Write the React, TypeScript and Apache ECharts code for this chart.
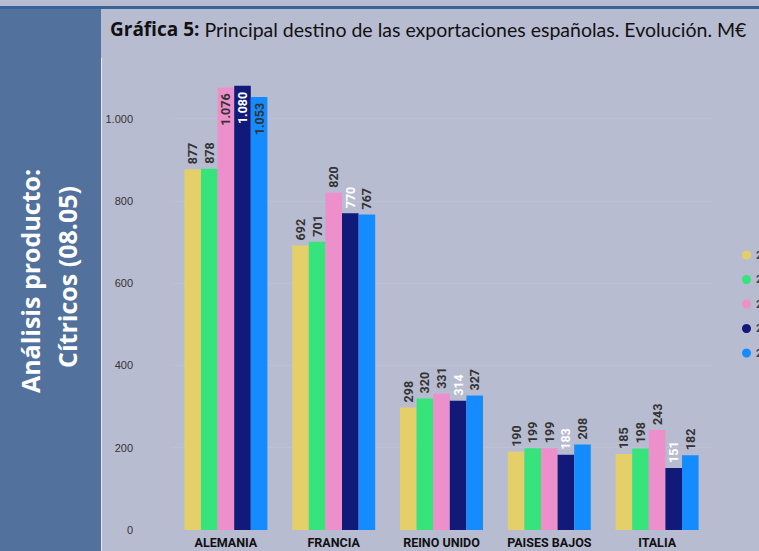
import React, { useEffect, useRef } from "react";
import * as echarts from "echarts";

const categories = ["ALEMANIA", "FRANCIA", "REINO UNIDO", "PAISES BAJOS", "ITALIA"];
const seriesNames = ["2019", "2020", "2021", "2022", "2023"];
const values2019 = [877, 692, 298, 190, 185];
const values2020 = [878, 701, 320, 199, 198];
const values2021 = [1076, 820, 331, 199, 243];
const values2022 = [1080, 770, 314, 183, 151];
const values2023 = [1053, 767, 327, 208, 182];
const yTicks = [0, 200, 400, 600, 800, 1000];

const colors = ["#e5cf68", "#37e47c", "#ec8fca", "#111a78", "#148cff"];
const labelColors = ["#333333", "#333333", "#333333", "#ffffff", "#333333"];

const fmt = (v: number) => {
  const s = String(Math.round(v));
  return s.replace(/\B(?=(\d{3})+(?!\d))/g, ".");
};

export default function App() {
  const ref = useRef<HTMLDivElement>(null);
  useEffect(() => {
    if (!ref.current) return;
    const chart = echarts.init(ref.current, null, { renderer: "svg" });
    const all = [values2019, values2020, values2021, values2022, values2023];
    const series = all.map((vals, i) => ({
      name: seriesNames[i],
      type: "bar",
      barGap: "0%",
      barCategoryGap: "23%",
      itemStyle: { color: colors[i] },
      label: {
        show: true,
        position: "top",
        rotate: 90,
        align: "left",
        verticalAlign: "middle",
        distance: 5,
        color: labelColors[i],
        fontSize: 12.5,
        fontWeight: "bold",
        fontFamily: "Roboto",
        formatter: (p: any) => fmt(p.value),
      },
      data: vals.map((v) =>
        v >= 1000
          ? { value: v, label: { position: "insideTop", align: "right", distance: 6 } }
          : v
      ),
    }));
    const maxV = 1150;
    chart.setOption({
      animation: false,
      backgroundColor: "#b8bcd1",
      grid: { left: 172, right: 48, top: 57, bottom: 21 },
      legend: {
        orient: "vertical",
        left: 742,
        top: 249.5,
        padding: 0,
        itemWidth: 9,
        itemHeight: 9,
        itemGap: 13.5,
        icon: "circle",
        data: seriesNames,
        textStyle: { color: "#444", fontSize: 11, fontWeight: "bold", fontFamily: "Roboto" },
      },
      xAxis: {
        type: "category",
        data: categories,
        axisLine: { show: false },
        axisTick: { show: false },
        axisLabel: {
          interval: 0,
          margin: 6,
          color: "#111",
          fontSize: 12.5,
          fontWeight: "bold",
          fontFamily: "Roboto",
        },
      },
      yAxis: {
        type: "value",
        min: yTicks[0],
        max: maxV,
        interval: yTicks[1] - yTicks[0],
        axisLine: { show: false },
        axisTick: { show: false },
        axisLabel: {
          margin: 39,
          showMaxLabel: false,
          color: "#333",
          fontSize: 11,
          fontFamily: "Liberation Sans",
          formatter: (v: number) => fmt(v),
        },
        splitLine: {
          lineStyle: {
            type: "dotted",
            color: [
              "rgba(0,0,0,0)",
              "#c2c5d6",
              "#c2c5d6",
              "#c2c5d6",
              "#c2c5d6",
              "#c2c5d6",
              "rgba(0,0,0,0)",
            ],
          },
        },
      },
      graphic: [
        { type: "rect", shape: { x: 0, y: 6, width: 759, height: 3 }, style: { fill: "#3a6399" }, z: 10 },
        { type: "rect", shape: { x: 0, y: 9, width: 101, height: 542 }, style: { fill: "#52719c" }, z: 10 },
        { type: "rect", shape: { x: 101, y: 58, width: 1, height: 493 }, style: { fill: "#e8ebf2" }, z: 10 },
        {
          type: "text",
          x: 30,
          y: 281,
          rotation: Math.PI / 2,
          z: 11,
          style: {
            text: "Análisis producto:",
            fill: "#ffffff",
            font: "bold 25px 'Open Sans'",
            align: "center",
            verticalAlign: "middle",
          },
        },
        {
          type: "text",
          x: 67,
          y: 277,
          rotation: Math.PI / 2,
          z: 11,
          style: {
            text: "Cítricos (08.05)",
            fill: "#ffffff",
            font: "bold 25px 'Open Sans'",
            align: "center",
            verticalAlign: "middle",
          },
        },
        {
          type: "text",
          x: 110,
          y: 29,
          z: 11,
          style: {
            text: "{b|Gráfica 5:} Principal destino de las exportaciones españolas. Evolución. M€",
            fill: "#111",
            verticalAlign: "middle",
            font: "19.5px Lato",
            rich: {
              b: { fontWeight: "bold", fontSize: 19, fontFamily: "Open Sans", fill: "#111" },
            },
          },
        },
      ],
      series,
    });
    return () => chart.dispose();
  }, []);
  return (
    <div
      ref={ref}
      style={{ position: "fixed", left: 0, top: 0, width: 759, height: 551 }}
    />
  );
}
